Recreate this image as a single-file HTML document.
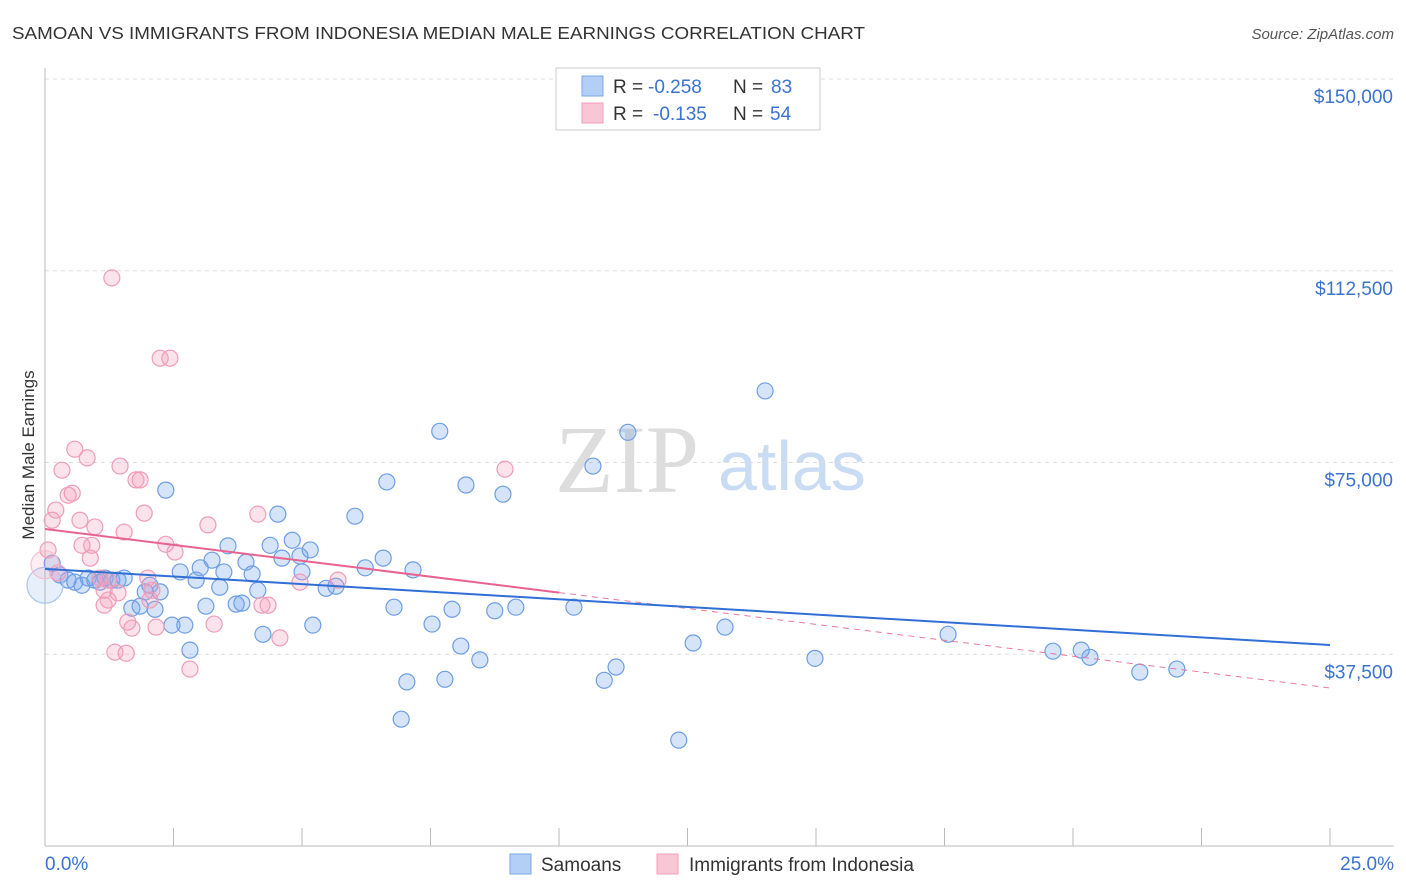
<!DOCTYPE html>
<html><head><meta charset="utf-8"><style>
body{margin:0;background:#fff;font-family:"Liberation Sans",sans-serif;}
#wrap{position:relative;width:1406px;height:892px;overflow:hidden;}
</style></head><body>
<div id="wrap">
<svg id="chart" width="1406" height="892" xmlns="http://www.w3.org/2000/svg">
<text x="12" y="39" font-size="17.5" fill="#333" textLength="853" lengthAdjust="spacingAndGlyphs">SAMOAN VS IMMIGRANTS FROM INDONESIA MEDIAN MALE EARNINGS CORRELATION CHART</text>
<text x="1394" y="39" font-size="15" fill="#555" font-style="italic" text-anchor="end">Source: ZipAtlas.com</text>
<text x="34" y="455" font-size="17" fill="#333" text-anchor="middle" transform="rotate(-90 34 455)">Median Male Earnings</text>
<text x="555" y="492" font-size="96" fill="#ddd" font-family="Liberation Serif,serif">ZIP</text>
<text x="718" y="490" font-size="70" fill="#c9dcf3">atlas</text>
<g id="grid"></g><g id="marks"></g>
<g>
<rect x="556" y="68" width="264" height="62" fill="#fff" stroke="#ccc"/>
<rect x="582" y="76" width="21" height="20" fill="#b3cff5" stroke="#7aa7e6"/>
<rect x="582" y="103" width="21" height="20" fill="#f9c6d6" stroke="#ee9cb8"/>
<text x="613" y="93" font-size="19" fill="#333">R =</text>
<text x="648" y="93" font-size="19" fill="#3a73d0">-0.258</text>
<text x="733" y="93" font-size="19" fill="#333">N =</text>
<text x="771" y="93" font-size="19" fill="#3a73d0">83</text>
<text x="613" y="120" font-size="19" fill="#333">R =</text>
<text x="653" y="120" font-size="19" fill="#3a73d0">-0.135</text>
<text x="733" y="120" font-size="19" fill="#333">N =</text>
<text x="770" y="120" font-size="19" fill="#3a73d0">54</text>
</g>
<g>
<rect x="510" y="854" width="21" height="20" fill="#b3cff5" stroke="#7aa7e6"/>
<text x="541" y="871" font-size="19" fill="#333">Samoans</text>
<rect x="657" y="854" width="21" height="20" fill="#f9c6d6" stroke="#ee9cb8"/>
<text x="689" y="871" font-size="19" fill="#333">Immigrants from Indonesia</text>
</g>
<text x="45" y="870" font-size="19" fill="#3a73d0">0.0%</text>
<text x="1394" y="870" font-size="19" fill="#3a73d0" text-anchor="end">25.0%</text>
</svg>
</div>
<script>
const yTicks=[150000,112500,75000,37500];
const yTickLabels=["$150,000","$112,500","$75,000","$37,500"];
const blueX=[.14,.29,.45,.58,.72,.84,.97,1.07,1.17,1.30,1.42,1.54,1.69,1.85,1.95,2.04,2.14,2.24,2.35,2.47,2.63,2.72,2.82,2.94,3.02,3.13,3.25,3.40,3.48,3.56,3.72,3.83,3.91,4.03,4.14,4.24,4.38,4.53,4.61,4.81,4.96,5.00,5.16,5.21,5.47,5.66,6.03,6.23,6.58,6.65,6.79,6.93,7.04,7.16,7.53,7.68,7.78,7.92,8.09,8.19,8.46,8.75,8.91,9.16,10.29,10.66,10.88,11.11,11.34,12.33,12.61,13.23,14.01,14.98,17.57,19.61,20.16,20.33,21.30,22.02,0.0];
const blueY=[55.3,53.0,52.0,51.6,51.0,52.4,52.0,51.6,52.4,52.0,52.0,52.4,46.5,46.9,49.7,51.0,46.3,49.7,69.6,43.2,53.6,43.2,38.3,52.0,54.4,46.9,55.9,50.6,53.6,58.7,47.3,47.5,55.5,53.2,50.0,41.4,58.8,64.9,56.3,59.8,56.7,53.6,57.9,43.2,50.4,50.8,64.5,54.4,56.3,71.2,46.7,24.8,32.1,54.0,43.4,81.1,32.6,46.3,39.1,70.6,36.4,46.0,68.8,46.7,46.7,74.3,32.4,35.0,80.9,20.7,39.7,42.8,89.0,36.7,41.4,38.1,38.3,36.9,34.0,34.6,51.0];
const blueR=[8,8,8,8,8,8,8,8,8,8,8,8,8,8,8,8,8,8,8,8,8,8,8,8,8,8,8,8,8,8,8,8,8,8,8,8,8,8,8,8,8,8,8,8,8,8,8,8,8,8,8,8,8,8,8,8,8,8,8,8,8,8,8,8,8,8,8,8,8,8,8,8,8,8,8,8,8,8,8,8,18];
const pinkX=[.06,.14,.21,.33,.45,.53,.58,.68,.72,.82,.88,.91,.97,1.07,1.15,1.23,1.30,1.36,1.42,1.46,1.54,1.58,1.61,1.69,1.77,1.85,1.93,2.00,2.08,2.16,2.24,2.35,2.43,2.53,3.17,3.29,2.82,4.14,4.22,4.34,4.57,4.96,5.70,8.95,1.23,1.15,.25,2.04,0.0];
const pinkY=[57.9,63.7,65.7,73.5,68.6,69.0,77.6,63.7,58.8,75.9,56.3,58.8,62.4,52.4,50.0,48.1,111.1,37.9,49.5,74.3,61.4,37.7,43.8,42.6,71.6,71.6,65.1,52.4,50.0,42.8,95.4,59.0,95.4,57.5,62.8,43.4,34.6,64.9,47.1,47.1,40.7,51.6,52.0,73.7,52.0,47.1,53.4,48.1,55.0];
const pinkR=[8,8,8,8,8,8,8,8,8,8,8,8,8,8,8,8,8,8,8,8,8,8,8,8,8,8,8,8,8,8,8,8,8,8,8,8,8,8,8,8,8,8,8,8,8,8,8,8,14];
const blueTrend=[0,54.2,25,39.3];
const pinkTrend=[0,62.0,25,30.9];
const pinkSolidEnd=10;
const NS="http://www.w3.org/2000/svg";
const X=p=>45+p/25*1285;
const Y=v=>846-v/150000*767;
const Yk=k=>Y(k*1000);
const grid=document.getElementById('grid'),marks=document.getElementById('marks');
function mk(tag,at,parent){const e=document.createElementNS(NS,tag);for(const k in at)e.setAttribute(k,at[k]);parent.appendChild(e);return e;}
yTicks.forEach((t,i)=>{
 const l=mk('line',{x1:45,x2:1394,y1:Y(t),y2:Y(t),stroke:'#ddd','stroke-dasharray':'4 4'},grid);
 
 
 const tx=mk('text',{x:1393,y:Y(t)+24,'font-size':19,fill:'#3a73d0','text-anchor':'end'},grid);
 tx.textContent=yTickLabels[i];
 
 
});
const ax=mk('line',{x1:45,x2:45,y1:68,y2:846,stroke:'#bbb'},grid);


const bx=mk('line',{x1:45,x2:1394,y1:846,y2:846,stroke:'#bbb'},grid);


for(let i=1;i<=10;i++){const t=mk('line',{x1:X(i*2.5),x2:X(i*2.5),y1:828,y2:846,stroke:'#bbb'},grid);
 
 }
blueX.forEach((x,i)=>{const big=blueR[i]>8;const c=mk('circle',{cx:X(x),cy:Yk(blueY[i]),r:blueR[i],fill:big?'rgba(120,165,235,0.18)':'rgba(120,165,235,0.3)',stroke:big?'#a9c6ee':'#6d9ee3','stroke-width':1.2},marks);
 
 });
pinkX.forEach((x,i)=>{const big=pinkR[i]>8;const c=mk('circle',{cx:X(x),cy:Yk(pinkY[i]),r:pinkR[i],fill:big?'rgba(245,160,190,0.18)':'rgba(245,160,190,0.3)',stroke:big?'#f4bfd1':'#ee9cb8','stroke-width':1.2},marks);
 
 });
const pAt=p=>pinkTrend[1]+(pinkTrend[3]-pinkTrend[1])*(p-pinkTrend[0])/(pinkTrend[2]-pinkTrend[0]);
const pd=mk('line',{x1:X(pinkSolidEnd),y1:Yk(pAt(pinkSolidEnd)),x2:X(pinkTrend[2]),y2:Yk(pinkTrend[3]),stroke:'#e8799f','stroke-width':1,'stroke-dasharray':'6 5'},marks);


const bl=mk('line',{x1:X(blueTrend[0]),y1:Yk(blueTrend[1]),x2:X(blueTrend[2]),y2:Yk(blueTrend[3]),stroke:'#2f6fd6','stroke-width':2},marks);


const pl=mk('line',{x1:X(pinkTrend[0]),y1:Yk(pinkTrend[1]),x2:X(pinkSolidEnd),y2:Yk(pAt(pinkSolidEnd)),stroke:'#e8638f','stroke-width':2},marks);


</script>
</body></html>
